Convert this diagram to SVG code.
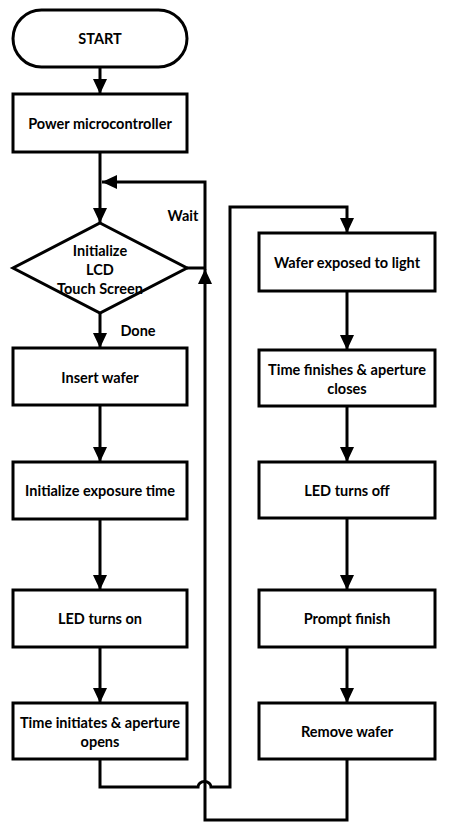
<svg xmlns="http://www.w3.org/2000/svg" width="453" height="828" viewBox="0 0 453 828">
<style>
.shape{fill:#fff;stroke:#000;stroke-width:3}
.line{fill:none;stroke:#000;stroke-width:3}
text{font-family:Lato,"Liberation Sans",sans-serif;font-weight:bold;font-size:14.5px;fill:#000;text-anchor:middle;dominant-baseline:central}
</style>
<defs>
<marker id="ah" markerUnits="userSpaceOnUse" markerWidth="16" markerHeight="15" refX="15" refY="7" orient="auto">
<path d="M0,0 L15,7 L0,14 z" fill="#000"/>
</marker>
</defs>
<rect width="453" height="828" fill="#fff"/>
<g id="connectors">
<path class="line" d="M100,67 V94" marker-end="url(#ah)"/>
<path class="line" d="M100,152 V223" marker-end="url(#ah)"/>
<path class="line" d="M187,268 H205 V182 H102" marker-end="url(#ah)"/>
<path class="line" d="M100,313 V348" marker-end="url(#ah)"/>
<path class="line" d="M100,405 V462" marker-end="url(#ah)"/>
<path class="line" d="M100,519 V590" marker-end="url(#ah)"/>
<path class="line" d="M100,647 V703" marker-end="url(#ah)"/>
<path class="line" d="M100,759 V787 H198 A6.5,5.5 0 0 1 211,787 H230 V207 H347 V233" marker-end="url(#ah)"/>
<path class="line" d="M347,291 V350" marker-end="url(#ah)"/>
<path class="line" d="M347,406 V462" marker-end="url(#ah)"/>
<path class="line" d="M347,518 V590" marker-end="url(#ah)"/>
<path class="line" d="M347,647 V703" marker-end="url(#ah)"/>
<path class="line" d="M347,759 V820 H205 V269" marker-end="url(#ah)"/>
<text x="183" y="215">Wait</text>
<text x="138" y="330">Done</text>
</g>
<g id="start"><rect class="shape" x="13" y="10" width="174" height="57" rx="28.5"/><text x="100" y="38.5">START</text></g>
<g id="power"><rect class="shape" x="13" y="94" width="174" height="58"/><text x="100" y="123">Power microcontroller</text></g>
<g id="init-lcd"><path class="shape" d="M100,223 L187,268 L100,313 L13,268 z"/><text x="100" y="250">Initialize</text><text x="100" y="269">LCD</text><text x="100" y="288">Touch Screen</text></g>
<g id="insert"><rect class="shape" x="13" y="348" width="174" height="57"/><text x="100" y="377">Insert wafer</text></g>
<g id="init-exp"><rect class="shape" x="13" y="462" width="174" height="57"/><text x="100" y="490.5">Initialize exposure time</text></g>
<g id="led-on"><rect class="shape" x="13" y="590" width="174" height="57"/><text x="100" y="618.5">LED turns on</text></g>
<g id="time-init"><rect class="shape" x="13" y="703" width="174" height="56"/><text x="100" y="722">Time initiates &amp; aperture</text><text x="100" y="741">opens</text></g>
<g id="wafer-exposed"><rect class="shape" x="259" y="233" width="176" height="58"/><text x="347" y="262">Wafer exposed to light</text></g>
<g id="time-fin"><rect class="shape" x="259" y="350" width="176" height="56"/><text x="347" y="369">Time finishes &amp; aperture</text><text x="347" y="388">closes</text></g>
<g id="led-off"><rect class="shape" x="259" y="462" width="176" height="56"/><text x="347" y="490">LED turns off</text></g>
<g id="prompt"><rect class="shape" x="259" y="590" width="176" height="57"/><text x="347" y="618.5">Prompt finish</text></g>
<g id="remove"><rect class="shape" x="259" y="703" width="176" height="56"/><text x="347" y="731">Remove wafer</text></g>
</svg>
